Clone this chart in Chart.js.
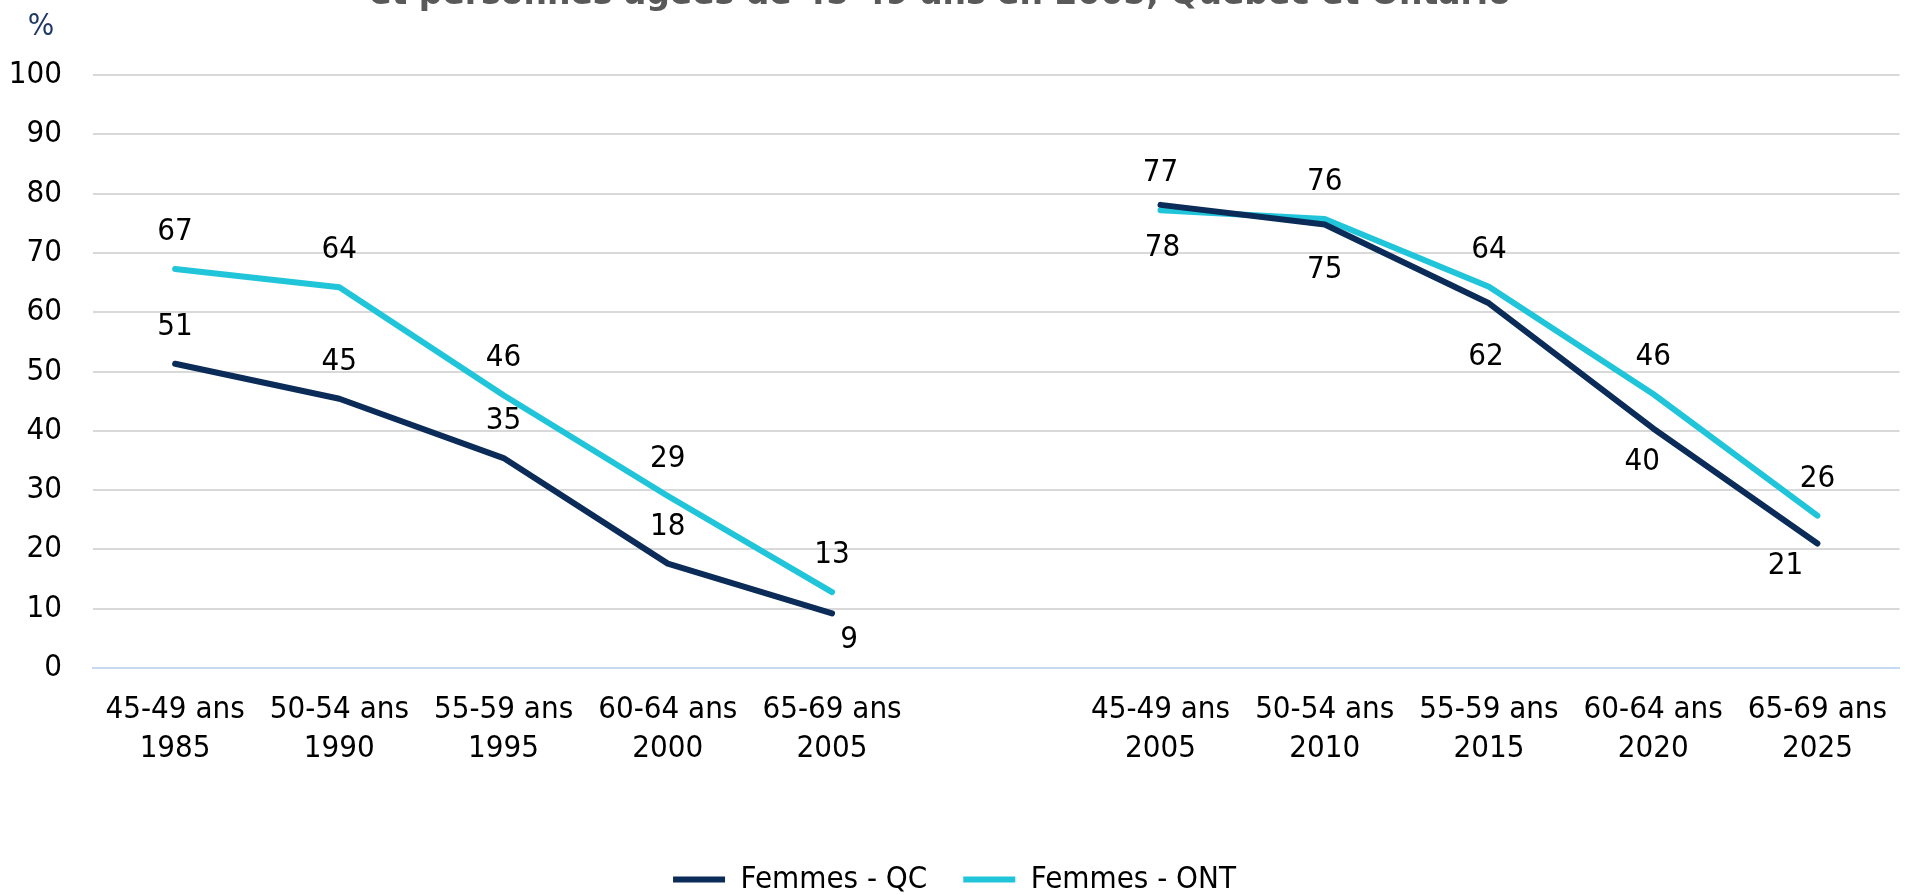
<!DOCTYPE html>
<html lang="fr">
<head>
<meta charset="utf-8">
<title>Femmes - QC / ONT</title>
<script src="https://cdn.jsdelivr.net/npm/chart.js@4"></script>
<style>
    html, body { margin: 0; padding: 0; background: #fff; overflow: hidden; }
    #wrap { position: relative; width: 1909px; height: 905px; }
</style>
</head>
<body>
<div id="wrap"><canvas id="chart"></canvas></div>
<script>
// Catégories (cohortes suivies dans le temps), avec une case vide entre les deux panneaux
const ageGroups = ['45-49 ans', '50-54 ans', '55-59 ans', '60-64 ans', '65-69 ans', '', '45-49 ans', '50-54 ans', '55-59 ans', '60-64 ans', '65-69 ans'];
const years = ['1985', '1990', '1995', '2000', '2005', '', '2005', '2010', '2015', '2020', '2025'];

// Taux (%)
const femmesQC = [51.3, 45.4, 35.4, 17.6, 9.2, null, 78.1, 74.8, 61.5, 40.4, 21.0];
const femmesONT = [67.3, 64.2, 46.0, 29.0, 12.8, null, 77.2, 75.7, 64.3, 46.2, 25.7];

const yTicks = { min: 0, max: 100, step: 10 };

const titleText = 'et personnes âgées de 45-49 ans en 2005, Québec et Ontario';
const FONT = '"DejaVu Sans Condensed", "DejaVu Sans", Verdana, sans-serif';

// décalage des étiquettes par rapport au point (Excel les avait placées à la main)
function labelShift(datasetIndex, i) {
    if (datasetIndex === 1) return [0, -37];
    const below = { 4: [17, 27], 6: [2, 43], 7: [0, 46], 8: [-3, 54], 9: [-11, 34], 10: [-32, 22] };
    return below[i] || [0, -37];
}

const valueLabels = {
    id: 'valueLabels',
    afterDatasetsDraw(chart) {
        const ctx = chart.ctx;
        ctx.save();
        ctx.font = '31px ' + FONT;
        ctx.fillStyle = '#000';
        ctx.textAlign = 'center';
        ctx.textBaseline = 'middle';
        chart.data.datasets.forEach((ds, di) => {
            const meta = chart.getDatasetMeta(di);
            meta.data.forEach((pt, i) => {
                const v = ds.data[i];
                if (v === null) return;
                const [dx, dy] = labelShift(di, i);
                ctx.fillText(Math.round(v), pt.x + dx, pt.y + dy);
            });
        });
        ctx.restore();
    }
};

const extraText = {
    id: 'extraText',
    afterDraw(chart) {
        const ctx = chart.ctx;
        ctx.save();
        // titre coupé en haut, comme dans l'original
        ctx.font = 'bold 33px "DejaVu Sans", Verdana, sans-serif';
        ctx.fillStyle = '#595959';
        ctx.textAlign = 'center';
        ctx.textBaseline = 'alphabetic';
        ctx.fillText(titleText, 940, 4);
        // unité de l'axe
        ctx.font = '31px ' + FONT;
        ctx.fillStyle = '#1f3864';
        ctx.textBaseline = 'middle';
        ctx.fillText('%', 41, 27);
        ctx.restore();
    }
};

const labels = ageGroups.map((a, i) => a ? [a, years[i]] : '');

new Chart(document.getElementById('chart'), {
    type: 'line',
    data: {
        labels: labels,
        datasets: [
            {
                label: 'Femmes - QC',
                data: femmesQC,
                borderColor: '#0b2c58',
                backgroundColor: '#0b2c58',
                borderWidth: 6,
                borderCapStyle: 'round',
                borderJoinStyle: 'round',
                pointRadius: 0,
                tension: 0,
                spanGaps: false
            },
            {
                label: 'Femmes - ONT',
                data: femmesONT,
                borderColor: '#20c5da',
                backgroundColor: '#20c5da',
                borderWidth: 6,
                borderCapStyle: 'round',
                borderJoinStyle: 'round',
                pointRadius: 0,
                tension: 0,
                spanGaps: false
            }
        ]
    },
    options: {
        responsive: true,
        maintainAspectRatio: false,
        animation: false,
        layout: { padding: { top: 75, left: 0, right: 0, bottom: 0 } },
        plugins: {
            title: { display: false },
            tooltip: { enabled: false },
            legend: {
                position: 'bottom',
                labels: {
                    color: '#000',
                    font: { family: FONT, size: 31 },
                    usePointStyle: true,
                    pointStyle: 'line',
                    pointStyleWidth: 52,
                    boxHeight: 31,
                    padding: 36
                }
            }
        },
        scales: {
            x: {
                offset: true,
                grid: { display: false, drawTicks: false },
                border: { display: true, color: '#c5daf1', width: 2 },
                ticks: {
                    color: '#000',
                    font: { family: FONT, size: 31, lineHeight: 1.26 },
                    padding: 22,
                    maxRotation: 0,
                    autoSkip: false
                },
                afterFit(scale) { scale.height = 160; }
            },
            y: {
                min: yTicks.min,
                max: yTicks.max,
                grid: {
                    drawTicks: false,
                    lineWidth: 2,
                    color: (c) => c.tick && c.tick.value === 0 ? '#c5daf1' : '#d9d9d9'
                },
                border: { display: false },
                ticks: {
                    stepSize: yTicks.step,
                    color: '#000',
                    font: { family: FONT, size: 31 },
                    padding: 31
                },
                afterFit(scale) { scale.width = 93; }
            }
        }
    },
    plugins: [valueLabels, extraText]
});
</script>
</body>
</html>
